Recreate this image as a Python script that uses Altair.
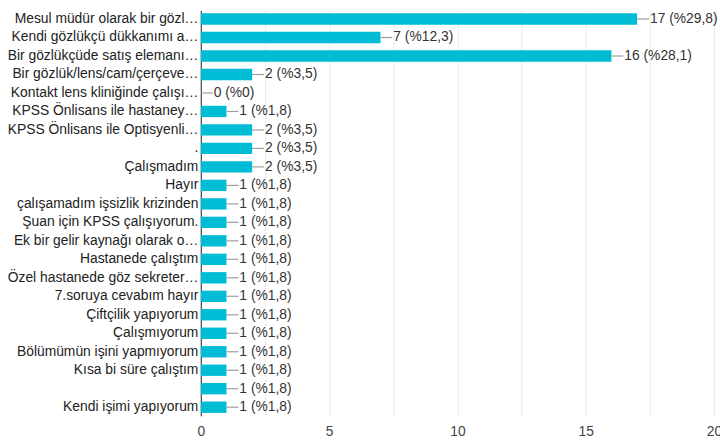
import altair as alt
import pandas as pd

categories = [
    "Mesul müdür olarak bir gözl…",
    "Kendi gözlükçü dükkanımı a…",
    "Bir gözlükçüde satış elemanı…",
    "Bir gözlük/lens/cam/çerçeve…",
    "Kontakt lens kliniğinde çalışı…",
    "KPSS Önlisans ile hastaney…",
    "KPSS Önlisans ile Optisyenli…",
    ".",
    "Çalışmadım",
    "Hayır",
    "çalışamadım işsizlik krizinden",
    "Şuan için KPSS çalışıyorum.",
    "Ek bir gelir kaynağı olarak o…",
    "Hastanede çalıştım",
    "Özel hastanede göz sekreter…",
    "7.soruya cevabım hayır",
    "Çiftçilik yapıyorum",
    "Çalışmıyorum",
    "Bölümümün işini yapmıyorum",
    "Kısa bi süre çalıştım",
    " ",
    "Kendi işimi yapıyorum",
]
counts = [17, 7, 16, 2, 0, 1, 2, 2, 2, 1, 1, 1, 1, 1, 1, 1, 1, 1, 1, 1, 1, 1]
percents = ["%29,8", "%12,3", "%28,1", "%3,5", "%0", "%1,8", "%3,5", "%3,5", "%3,5",
            "%1,8", "%1,8", "%1,8", "%1,8", "%1,8", "%1,8", "%1,8", "%1,8", "%1,8",
            "%1,8", "%1,8", "%1,8", "%1,8"]
x_ticks = [0, 2.5, 5, 7.5, 10, 12.5, 15, 17.5, 20]

df = pd.DataFrame({"cat": categories, "n": counts, "pct": percents})
df["label"] = [f"{n} ({p})" for n, p in zip(counts, percents)]

FONT = "Arial, Liberation Sans, sans-serif"

y_enc = alt.Y(
    "cat:N", sort=None, title=None,
    scale=alt.Scale(paddingInner=0.385, paddingOuter=0.16),
    axis=alt.Axis(labelFont=FONT, labelFontSize=14, labelColor="#222222",
                  labelLimit=400, labelPadding=3, ticks=False,
                  domain=True, domainColor="#444444", domainWidth=1.2, grid=False),
)
x_scale = alt.Scale(domain=[0, 20], nice=False)

bars = alt.Chart(df).mark_bar(color="#00bcd4").encode(
    x=alt.X("n:Q", scale=x_scale, title=None,
            axis=alt.Axis(values=x_ticks, labelExpr="datum.value % 5 == 0 ? datum.label : ''",
                          labelFont=FONT, labelFontSize=14, labelColor="#444444",
                          labelPadding=9, ticks=False, domain=False, labelFlush=False,
                          grid=True, gridColor="#ebebeb", gridWidth=1)),
    y=y_enc,
)

leaders = alt.Chart(df).mark_rule(color="#9e9e9e", strokeWidth=1.2, x2Offset=12).encode(
    x=alt.X("n:Q", scale=x_scale),
    x2="n:Q",
    y=alt.Y("cat:N", sort=None, bandPosition=0.5),
)

texts = alt.Chart(df).mark_text(align="left", baseline="middle", dx=13, font=FONT,
                                fontSize=14, color="#333333").encode(
    x=alt.X("n:Q", scale=x_scale),
    y=alt.Y("cat:N", sort=None),
    text="label:N",
)

chart = alt.layer(bars, leaders, texts).properties(
    width=519, height=410,
    autosize=alt.AutoSizeParams(type="none"),
    padding={"left": 195, "top": 0, "right": 6, "bottom": 21},
).configure_view(stroke=None)

chart.save("out.html", embed_options={"renderer": "svg", "actions": False})
